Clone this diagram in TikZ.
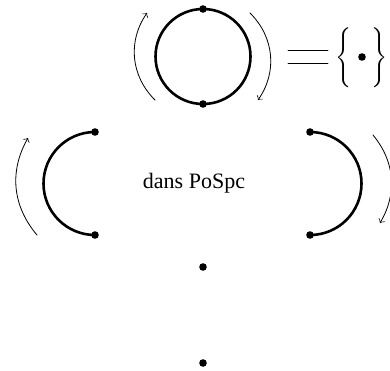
\documentclass[tikz,border=0pt]{standalone}
\usepackage{fontspec}
\setmainfont{Liberation Serif}

\begin{document}
\begin{tikzpicture}[x=0.5pt,y=0.5pt,>=to,line cap=round,
		bullet/.style={circle,inner sep=0pt,minimum size=3.8pt,fill},
		thickarc/.style={line width=1.3pt},
		turn/.style={->,line width=0.4pt,bend left=#1},
		brace/.style={inner sep=0pt,font=\fontsize{9}{11}\selectfont}]
		\useasboundingbox (0,0) rectangle (390,-370);
		% le cercle en haut
		\coordinate (c) at (203,-56.5);
		\draw[thickarc] (c) circle[radius=47.5];
		\node[bullet] (ct) at (203,-9) {};
		\node[bullet] (cb) at (203,-104) {};
		\coordinate (a1) at (155,-100);
		\coordinate (a2) at (147,-13);
		\coordinate (b1) at (250,-13);
		\coordinate (b2) at (258,-100);
		\draw[turn=40] (a1) to (a2);
		\draw[turn=40] (b1) to (b2);
		% = { . }
		\draw[line width=0.45pt] (288,-50) -- (328,-50) (288,-63) -- (328,-63);
		\node[brace] (lbr) at (344,-57) {$\Bigg\{$};
		\node[bullet] (pt) at (362,-57) {};
		\node[brace] (rbr) at (380,-57) {$\Bigg\}$};
		% les deux arcs
		\node[bullet] (lt) at (95,-132) {};
		\node[bullet] (lb) at (95,-235) {};
		\node[bullet] (rt) at (310,-132) {};
		\node[bullet] (rb) at (310,-235) {};
		\draw[thickarc] (lt.center) arc[start angle=90,end angle=270,radius=51.5];
		\draw[thickarc] (rt.center) arc[start angle=90,end angle=-90,radius=51.5];
		\coordinate (d1) at (37,-235);
		\coordinate (d2) at (28,-138);
		\coordinate (e1) at (373,-135);
		\coordinate (e2) at (380,-223);
		\draw[turn=35] (d1) to (d2);
		\draw[turn=35] (e1) to (e2);
		\node[font=\fontsize{11}{13}\selectfont] (txt) at (194,-183) {dans PoSpc};
		% les deux points
		\foreach \Y [count=\i] in {-267,-363}
		{\node[bullet] (p\i) at (203,\Y) {};}
	\end{tikzpicture}
\end{document}
